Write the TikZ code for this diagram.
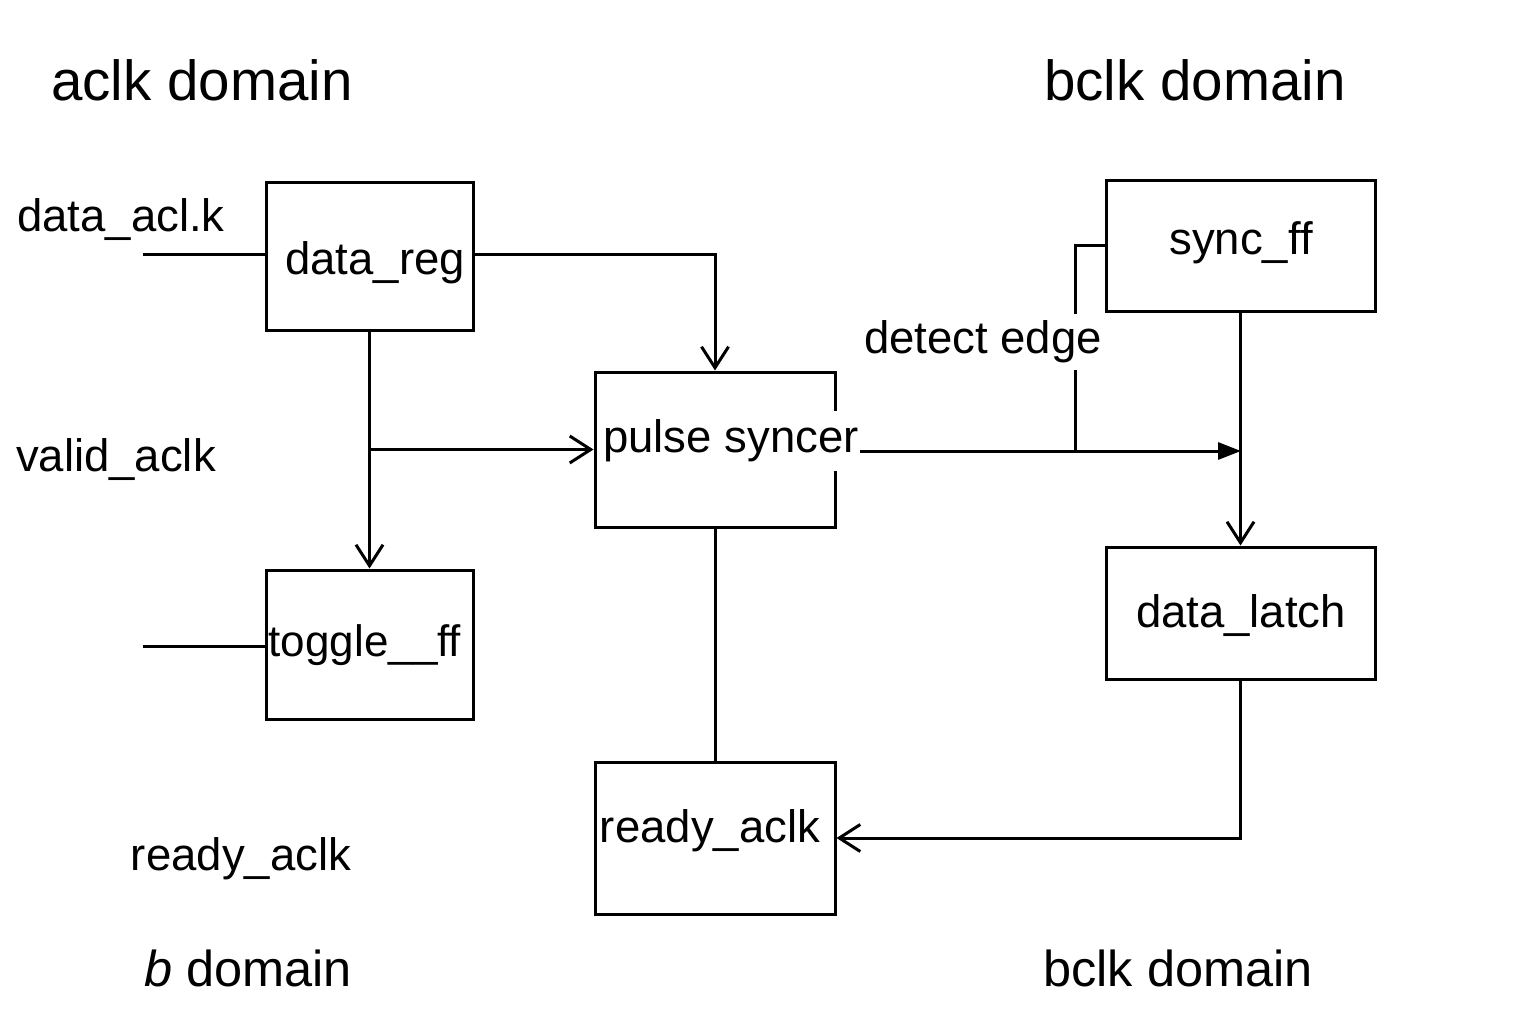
\documentclass[tikz,border=0pt]{standalone}
\usepackage{fontspec}
\setmainfont{Liberation Sans}
\usetikzlibrary{arrows.meta}
\tikzset{
  blk/.style={draw, line width=3pt, inner sep=0pt},
  lbl/.style={inner sep=0pt, font=\fontsize{45.5}{50}\selectfont},
  ttl/.style={inner sep=0pt, font=\fontsize{56.5}{60}\selectfont},
  wire/.style={line width=3pt},
  oarr/.style={wire, -{Straight Barb[length=21pt, width=27pt, line width=3pt]}},
  farr/.style={wire, -{Triangle[length=23pt, width=17pt]}}
}
\begin{document}
\begin{tikzpicture}[x=1pt, y=-1pt]
\useasboundingbox[fill=white] (0,0) rectangle (1536,1024);

% boxes
\node[blk, minimum width=207pt, minimum height=147pt] (datareg) at (369.5,256.5) {};
\node[blk, minimum width=207pt, minimum height=149pt] (toggle) at (369.5,644.5) {};
\node[blk, minimum width=240pt, minimum height=155pt] (pulse) at (715,449.5) {};
\node[blk, minimum width=240pt, minimum height=152pt] (ready) at (715,838) {};
\node[blk, minimum width=269pt, minimum height=130pt] (sync) at (1240.5,246) {};
\node[blk, minimum width=269pt, minimum height=132pt] (latch) at (1240.5,613) {};

% coordinates
\coordinate (in1) at (143,255);
\coordinate (in2) at (143,646);
\coordinate (br) at (datareg.south |- pulse.west);
\coordinate (tap) at (1075,451);
\coordinate (join) at (1241,451);

% connectors
\draw[wire] (in1) -- (in1 -| datareg.west);
\draw[wire] (in2) -- (in2 -| toggle.west);
\draw[oarr] (datareg.east |- in1) -| (pulse.north);
\draw[oarr] (datareg.south) -- (toggle.north);
\draw[oarr] (br) -- (pulse.west);
\draw[farr] (pulse.east |- join) -- (join);
\draw[wire] (tap) |- (sync.west);
\draw[oarr] (sync.south) -- (latch.north);
\draw[wire] (pulse.south) -- (ready.north);
\draw[oarr] (latch.south) |- (ready.east);

% labels inside boxes
\node[lbl] (tdatareg) at (375,263) {data\_reg};
\node[lbl, font=\fontsize{44}{48}\selectfont] (ttoggle) at (365,645) {toggle\_\_ff};
\node[lbl, fill=white, inner xsep=1pt, inner ysep=9pt] (tpulse) at (731,441) {pulse syncer};
\node[lbl] (tready) at (710,831) {ready\_aclk};
\node[lbl] (tsync) at (1241,243) {sync\_ff};
\node[lbl] (tlatch) at (1241,616) {data\_latch};

% free labels
\node[ttl] (t1) at (202,80) {aclk domain};
\node[ttl] (t2) at (1195,80) {bclk domain};
\node[lbl] (l1) at (121,220) {data\_acl.k};
\node[lbl] (l2) at (116,460) {valid\_aclk};
\node[lbl] (l3) at (241,859) {ready\_aclk};
\node[lbl, fill=white, inner ysep=7pt, inner xsep=0pt] (l4) at (983,342) {detect edge};
\node[ttl, font=\fontsize{50.5}{55}\selectfont] (t3) at (248,968) {\textit{b} domain};
\node[ttl, font=\fontsize{50.5}{55}\selectfont] (t4) at (1178,968) {bclk domain};
\end{tikzpicture}
\end{document}
